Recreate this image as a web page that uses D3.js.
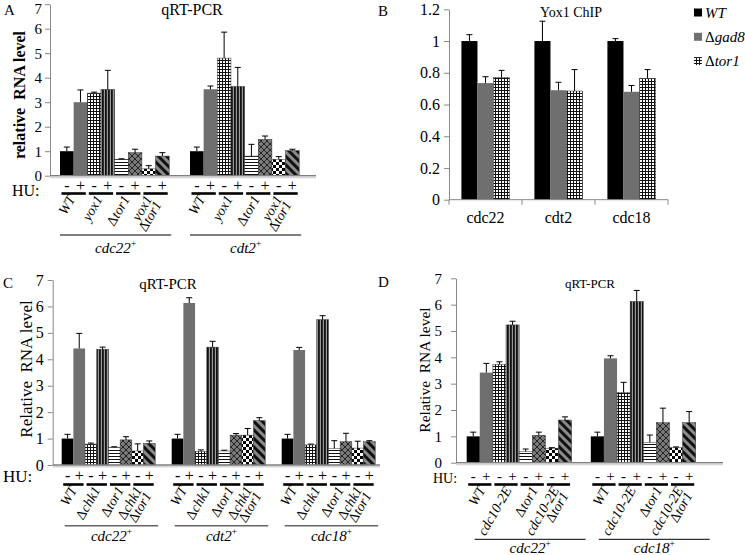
<!DOCTYPE html>
<html><head><meta charset="utf-8">
<script src="https://cdn.jsdelivr.net/npm/d3@7"></script>
<style>body{margin:0;background:#fff}svg{display:block}text{font-family:"Liberation Serif","Times New Roman",serif;white-space:pre}</style>
</head><body><svg id="c" width="745" height="555"></svg>
<script>
// ---------- data ----------
const huSigns = ["-", "+"];
const barPatterns = ["black","gray","grid","vstripe","hstripe","diamond","checker","diag"];
const ticksQ = [0,1,2,3,4,5,6,7];

const genesA = ["cdc22","cdt2"];
const strainsA = [["WT"],["yox1"],["Δtor1"],["yox1","Δtor1"]];
const meanA_cdc22 = [1.0, 3.0, 3.37, 3.52, 0.67, 0.94, 0.28, 0.80];
const errA_cdc22  = [0.17, 0.50, 0.04, 0.78, 0.02, 0.14, 0.13, 0.14];
const meanA_cdt2  = [1.0, 3.53, 4.80, 3.64, 0.80, 1.48, 0.67, 1.02];
const errA_cdt2   = [0.17, 0.13, 1.06, 0.78, 0.48, 0.14, 0.11, 0.06];

const genesB = ["cdc22","cdt2","cdc18"];
const seriesB = ["WT","Δgad8","Δtor1"];
const patternsB = ["black","gray","grid"];
const ticksB = [0,0.2,0.4,0.6,0.8,1,1.2];
const meanB_WT   = [1.0, 1.0, 1.0];
const errB_WT    = [0.04, 0.125, 0.015];
const meanB_gad8 = [0.735, 0.69, 0.68];
const errB_gad8  = [0.04, 0.05, 0.04];
const meanB_tor1 = [0.77, 0.685, 0.765];
const errB_tor1  = [0.045, 0.135, 0.055];

const genesC = ["cdc22","cdt2","cdc18"];
const strainsC = [["WT"],["Δchk1"],["Δtor1"],["Δchk1","Δtor1"]];
const meanC_cdc22 = [1.0, 4.41, 0.79, 4.38, 0.66, 0.95, 0.53, 0.82];
const errC_cdc22  = [0.16, 0.57, 0.04, 0.08, 0.03, 0.12, 0.27, 0.09];
const meanC_cdt2  = [1.0, 6.13, 0.52, 4.46, 0.53, 1.13, 1.13, 1.68];
const errC_cdt2   = [0.16, 0.20, 0.05, 0.22, 0.03, 0.06, 0.25, 0.11];
const meanC_cdc18 = [1.0, 4.35, 0.76, 5.50, 0.63, 0.88, 0.64, 0.88];
const errC_cdc18  = [0.16, 0.10, 0.03, 0.15, 0.29, 0.32, 0.26, 0.04];

const genesD = ["cdc22","cdc18"];
const strainsD = [["WT"],["cdc10-2E"],["Δtor1"],["cdc10-2E","Δtor1"]];
const meanD_cdc22 = [1.0, 3.42, 3.73, 5.23, 0.42, 1.04, 0.55, 1.62];
const errD_cdc22  = [0.16, 0.35, 0.10, 0.14, 0.10, 0.12, 0.02, 0.12];
const meanD_cdc18 = [1.0, 3.96, 2.66, 6.12, 0.77, 1.52, 0.57, 1.52];
const errD_cdc18  = [0.16, 0.10, 0.39, 0.42, 0.28, 0.55, 0.03, 0.42];

// ---------- setup ----------
const svg = d3.select("#c");
svg.append("rect").attr("width",745).attr("height",555).attr("fill","#fff");
const defs = svg.append("defs");
function pat(id,w,h,draw,tr){
  const p = defs.append("pattern").attr("id",id).attr("patternUnits","userSpaceOnUse").attr("width",w).attr("height",h);
  if(tr) p.attr("patternTransform",tr);
  draw(p);
}
pat("grid",3,3,p=>{p.append("rect").attr("width",3).attr("height",3).attr("fill","#fff");
  p.append("rect").attr("width",3).attr("height",1).attr("fill","#111");
  p.append("rect").attr("width",1).attr("height",3).attr("fill","#111");});
pat("vstripe",3,3,p=>{p.append("rect").attr("width",3).attr("height",3).attr("fill","#9a9a9a");
  p.append("rect").attr("width",1.8).attr("height",3).attr("fill","#111");});
pat("hstripe",3,3,p=>{p.append("rect").attr("width",3).attr("height",3).attr("fill","#fff");
  p.append("rect").attr("width",3).attr("height",1).attr("fill","#111");});
pat("diamond",6,6,p=>{p.append("rect").attr("width",6).attr("height",6).attr("fill","#7a7a7a");
  p.append("path").attr("d","M0,0L6,6M6,0L0,6").attr("stroke","#1a1a1a").attr("stroke-width",0.9);});
pat("checker",6,6,p=>{p.append("rect").attr("width",6).attr("height",6).attr("fill","#fff");
  p.append("rect").attr("width",3).attr("height",3).attr("fill","#000");
  p.append("rect").attr("x",3).attr("y",3).attr("width",3).attr("height",3).attr("fill","#000");});
pat("diag",6,6,p=>{p.append("rect").attr("width",6).attr("height",6).attr("fill","#8a8a8a");
  p.append("rect").attr("width",3).attr("height",6).attr("fill","#111");},"rotate(-45)");
function fillOf(k){ return k==="black" ? "#000" : k==="gray" ? "#6f6f6f" : `url(#${k})`; }

function rich(sel, str){
  if(str.startsWith("Δ")){ sel.append("tspan").attr("font-style","normal").text("Δ");
    sel.append("tspan").attr("font-style","italic").text(str.slice(1)); }
  else sel.append("tspan").attr("font-style","italic").text(str);
}
function styleAxis(g,size){
  g.attr("font-family",null).attr("font-size",null);
  g.select(".domain").attr("stroke","#888");
  g.selectAll(".tick line").attr("stroke","#888");
  g.selectAll(".tick text").attr("fill","#000").attr("font-size",size);
}
function xLine(g,x1,x2,y){
  g.append("line").attr("x1",x1).attr("x2",x2).attr("y1",y+1.6).attr("y2",y+1.6).attr("stroke","#d6d6d6").attr("stroke-width",2);
  g.append("line").attr("x1",x1).attr("x2",x2).attr("y1",y).attr("y2",y).attr("stroke","#808080").attr("stroke-width",1.3);
}
function errBar(g,cx,yTop,yErr){
  g.append("line").attr("x1",cx).attr("x2",cx).attr("y1",yTop).attr("y2",yErr).attr("stroke","#000").attr("stroke-width",1);
  g.append("line").attr("x1",cx-3).attr("x2",cx+3).attr("y1",yErr).attr("y2",yErr).attr("stroke","#000").attr("stroke-width",1);
}

// ---------- qRT-PCR panels ----------
function drawQ(c){
  const g = svg.append("g");
  const y = d3.scaleLinear().domain([0,7]).range([c.y0,c.y7]);
  const x0 = d3.scaleBand().domain(c.genes).range(c.xr).paddingInner(c.pin).paddingOuter(c.pin/2);
  const x1 = d3.scaleBand().domain(d3.range(8)).range([0,x0.bandwidth()]);
  const bw = x1.bandwidth();
  const ax = g.append("g").attr("transform",`translate(${c.axisX},0)`)
    .call(d3.axisLeft(y).tickValues(ticksQ).tickSize(5).tickSizeOuter(0).tickPadding(c.tickPad).tickFormat(d3.format("d")));
  styleAxis(ax,c.tickSize);
  if(c.topNudge) ax.selectAll(".tick text").filter(d=>d===7).attr("transform",`translate(0,${c.topNudge})`);
  c.genes.forEach((gene,gi)=>{
    const gx = x0(gene);
    c.mean[gi].forEach((v,k)=>{
      g.append("rect").attr("x",gx+x1(k)).attr("y",y(v)).attr("width",bw).attr("height",y(0)-y(v))
        .attr("fill",fillOf(barPatterns[k]))
        .attr("stroke",k>1?"#333":"none").attr("stroke-width",0.5);
    });
  });
  c.genes.forEach((gene,gi)=>{
    const gx = x0(gene);
    c.mean[gi].forEach((v,k)=>{ errBar(g,gx+x1(k)+bw/2,y(v),y(v+c.err[gi][k])); });
  });
  xLine(g,c.axisX,c.xEnd,y(0));
  // HU row
  g.append("text").attr("x",c.huX).attr("y",c.huY).attr("font-size",c.huSize).text("HU:");
  c.genes.forEach((gene,gi)=>{
    const gx = x0(gene);
    c.strains.forEach((lines,p)=>{
      const a = gx+x1(2*p), b = gx+x1(2*p+1);
      huSigns.forEach((s,j)=>{
        g.append("text").attr("x",(j?b:a)+bw/2).attr("y",c.signY).attr("text-anchor","middle").attr("font-size",c.signSize).text(s);
      });
      g.append("line").attr("x1",a+1.5).attr("x2",b+bw-1.5).attr("y1",c.lineY).attr("y2",c.lineY).attr("stroke","#000").attr("stroke-width",2.6);
      const pc = (a+b+bw)/2;
      const t = g.append("text").attr("text-anchor","end").attr("font-size",c.labSize)
        .attr("transform",`translate(${pc+c.ldx-(lines.length>1?5:0)},${c.labY}) rotate(-60)`);
      lines.forEach((ln,i)=>{ const ts = t.append("tspan").attr("x",0).attr("dy",i?"0.78em":0); rich(ts,ln); });
    });
    const u1 = gx + c.ulOff[0], u2 = gx + x0.bandwidth() + c.ulOff[1];
    g.append("line").attr("x1",u1).attr("x2",u2).attr("y1",c.ulY).attr("y2",c.ulY).attr("stroke",c.ulColor).attr("stroke-width",c.ulW);
    const gt = g.append("text").attr("x",(u1+u2)/2).attr("y",c.geneY).attr("text-anchor","middle").attr("font-size",c.geneSize).attr("font-style","italic");
    gt.append("tspan").text(gene);
    gt.append("tspan").attr("dy",-6).attr("font-size",c.geneSize*0.62).attr("font-style","normal").text("+");
  });
  g.append("text").attr("transform",`translate(${c.ylab.x},${c.ylab.y}) rotate(-90)`).attr("text-anchor","middle")
    .attr("font-size",c.ylab.size).attr("font-weight",c.ylab.weight||"normal").text(c.ylab.text);
  g.append("text").attr("x",c.letter.x).attr("y",c.letter.y).attr("font-size",15).text(c.letter.t);
  g.append("text").attr("x",c.title.x).attr("y",c.title.y).attr("text-anchor","middle").attr("font-size",c.title.size).text("qRT-PCR");
}

drawQ({genes:genesA, strains:strainsA, mean:[meanA_cdc22,meanA_cdt2], err:[errA_cdc22,errA_cdt2],
  xr:[49.6,309.6], pin:0.16, y0:175.7, y7:4.2, axisX:50, xEnd:316, tickPad:3, tickSize:15, topNudge:4,
  huX:12, huY:196, huSize:16, signSize:16, signY:191, lineY:193.5, ldx:2, labY:199, labSize:14,
  ulY:235, ulOff:[0,2], ulColor:"#000", ulW:1, geneY:253, geneSize:15,
  ylab:{x:25,y:95,size:16,weight:"bold",text:"relative  RNA level"}, letter:{t:"A",x:4,y:15}, title:{x:192,y:15,size:16}});

drawQ({genes:genesC, strains:strainsC, mean:[meanC_cdc22,meanC_cdt2,meanC_cdc18], err:[errC_cdc22,errC_cdt2,errC_cdc18],
  xr:[53.45,383.45], pin:0.15, y0:465, y7:280, axisX:52.7, xEnd:380, tickPad:4, tickSize:16,
  huX:3, huY:482, huSize:17, signSize:16, signY:481, lineY:484.5, ldx:4, labY:490, labSize:14,
  ulY:525.7, ulOff:[3,3], ulColor:"#666", ulW:1.5, geneY:541, geneSize:15,
  ylab:{x:32,y:369,size:17,text:"Relative  RNA level"}, letter:{t:"C",x:3,y:288}, title:{x:168,y:289,size:15}});

drawQ({genes:genesD, strains:strainsD, mean:[meanD_cdc22,meanD_cdc18], err:[errD_cdc22,errD_cdc18],
  xr:[457.05,705.35], pin:0.155, y0:462.7, y7:278.3, axisX:456, xEnd:723, tickPad:9, tickSize:15,
  huX:433, huY:483, huSize:14, signSize:15, signY:481, lineY:484.5, ldx:6, labY:490, labSize:14,
  ulY:539.3, ulOff:[8,14], ulColor:"#000", ulW:1, geneY:553, geneSize:15,
  ylab:{x:430,y:370,size:15.5,text:"Relative  RNA level"}, letter:{t:"D",x:378,y:287}, title:{x:590,y:288,size:13}});

// ---------- Panel B ----------
(function(){
  const g = svg.append("g");
  const y = d3.scaleLinear().domain([0,1.2]).range([199.7,9.3]);
  const x0 = d3.scaleBand().domain(genesB).range([449,668]).paddingInner(0.34).paddingOuter(0.17);
  const x1 = d3.scaleBand().domain(seriesB).range([0,x0.bandwidth()]);
  const ax = g.append("g").attr("transform","translate(449,0)")
    .call(d3.axisLeft(y).tickValues(ticksB).tickSize(5).tickSizeOuter(0).tickPadding(4).tickFormat(d=>String(d)));
  styleAxis(ax,16);
  const means = [meanB_WT, meanB_gad8, meanB_tor1], errs = [errB_WT, errB_gad8, errB_tor1];
  seriesB.forEach((s,si)=>{
    genesB.forEach((gene,gi)=>{
      const v = means[si][gi], x = x0(gene)+x1(s);
      g.append("rect").attr("x",x).attr("y",y(v)).attr("width",x1.bandwidth()).attr("height",y(0)-y(v))
        .attr("fill",fillOf(patternsB[si])).attr("stroke",si>1?"#333":"none").attr("stroke-width",0.5);
      errBar(g,x+x1.bandwidth()/2,y(v),y(v+errs[si][gi]));
    });
  });
  g.append("line").attr("x1",449).attr("x2",668).attr("y1",y(0)).attr("y2",y(0)).attr("stroke","#888");
  const step = x0.step();
  d3.range(4).forEach(i=>{
    const xx = 449 + i*step;
    g.append("line").attr("x1",xx).attr("x2",xx).attr("y1",y(0)).attr("y2",y(0)+5).attr("stroke","#888");
  });
  genesB.forEach(gene=>{
    g.append("text").attr("x",x0(gene)+x0.bandwidth()/2).attr("y",223).attr("text-anchor","middle").attr("font-size",16).text(gene);
  });
  g.append("text").attr("x",378).attr("y",16).attr("font-size",15).text("B");
  g.append("text").attr("x",571).attr("y",17).attr("text-anchor","middle").attr("font-size",14).text("Yox1 ChIP");
  seriesB.forEach((s,si)=>{
    const yy = 12.5 + si*24.3;
    g.append("rect").attr("x",694).attr("y",yy-4).attr("width",8).attr("height",8).attr("fill",fillOf(patternsB[si]));
    const t = g.append("text").attr("x",705).attr("y",yy+5).attr("font-size",15);
    rich(t,s);
  });
})();
</script></body></html>
